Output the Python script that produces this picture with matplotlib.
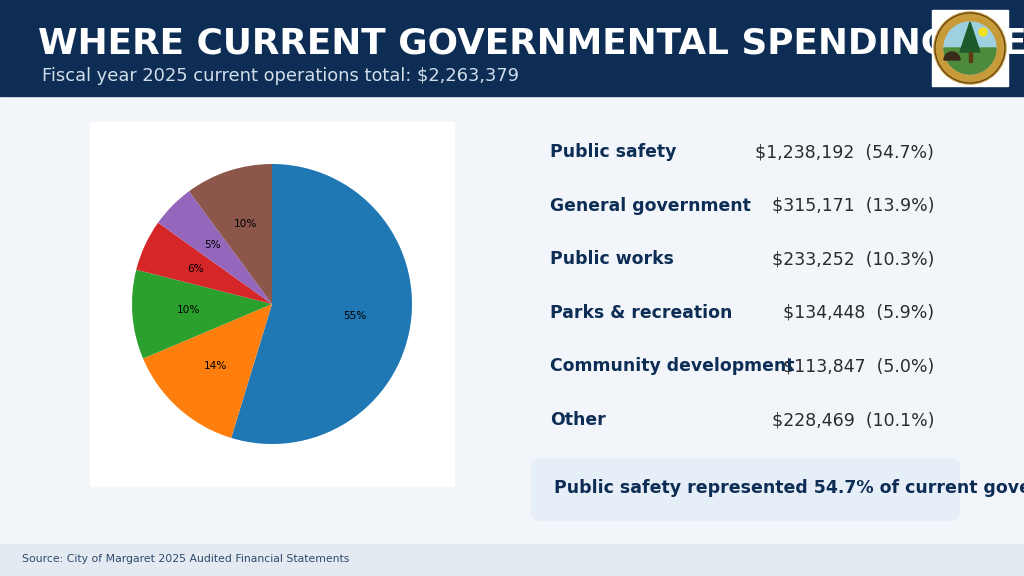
import matplotlib.pyplot as plt
from matplotlib.patches import Rectangle, FancyBboxPatch, Circle, Polygon, Wedge

categories = ["Public safety", "General government", "Public works",
              "Parks & recreation", "Community development", "Other"]
amounts = [1238192, 315171, 233252, 134448, 113847, 228469]
shares = [54.7, 13.9, 10.3, 5.9, 5.0, 10.1]
total = 2263379

title = "WHERE CURRENT GOVERNMENTAL SPENDING WENT"
subtitle = f"Fiscal year 2025 current operations total: ${total:,}"
callout = "Public safety represented 54.7% of current governmental spending"
source = "Source: City of Margaret 2025 Audited Financial Statements"

navy = "#0d2d55"
W, H = 1024, 576

fig = plt.figure(figsize=(10.24, 5.76), dpi=100)
fig.patch.set_facecolor("#f2f6fb")

# layout axes in pixel coords
bg = fig.add_axes([0, 0, 1, 1])
bg.set_xlim(0, W)
bg.set_ylim(H, 0)
bg.axis("off")

bg.add_patch(Rectangle((0, 0), W, 96, color=navy, zorder=1))
bg.add_patch(Rectangle((0, 544), W, 32, color="#e4eaf2", zorder=1))

bg.text(38, 44, title, color="white", fontsize=25.8, fontweight="bold",
        va="center", ha="left", zorder=2)
bg.text(42, 76, subtitle, color="#d3deeb", fontsize=12.9, va="center", zorder=2)

# logo (simplified seal)
bg.add_patch(Rectangle((932, 10), 76, 76, color="white", zorder=3))
bg.add_patch(Circle((970, 48), 36, color="#c79a3a", zorder=4))
bg.add_patch(Circle((970, 48), 35, fill=False, ec="#5a3b12", lw=0.8, zorder=5))
bg.add_patch(Circle((970, 48), 26, color="#9fd0e0", zorder=5))
bg.add_patch(Wedge((970, 48), 26, 0, 180, color="#4d8a3c", zorder=6))
bg.add_patch(Polygon([[970, 22], [960, 52], [980, 52]], color="#1f5a2a", zorder=7))
bg.add_patch(Rectangle((968.5, 52), 3, 10, color="#5a3b12", zorder=7))
bg.add_patch(Circle((983, 32), 4, color="#f5e021", zorder=7))
bg.add_patch(Wedge((952, 60), 8, 180, 360, color="#3b2a1a", zorder=7))

# pie panel
bg.add_patch(Rectangle((90, 122), 364, 364, color="white", zorder=1))
ax = fig.add_axes([90 / W, 1 - 486 / H, 364 / W, 364 / H])
ax.pie(amounts, startangle=90, counterclock=False, autopct="%1.0f%%",
       textprops={"fontsize": 7.6, "color": "black"})
ax.set_xlim(-1.3, 1.3)
ax.set_ylim(-1.3, 1.3)
ax.set_aspect("equal")
ax.axis("off")

# breakdown table
y0, dy = 152, 53.6
for i, (cat, amt, pct) in enumerate(zip(categories, amounts, shares)):
    y = y0 + i * dy
    bg.text(550, y, cat, color=navy, fontsize=12.4, fontweight="bold",
            va="center", ha="left", zorder=3)
    bg.text(934, y, f"${amt:,}  ({pct:.1f}%)", color="#2b2b2b", fontsize=12.5,
            va="center", ha="right", zorder=2)

bg.add_patch(FancyBboxPatch((539, 466), 413, 47, boxstyle="round,pad=8,rounding_size=10",
                            fc="#e6eef7", ec="none", zorder=1))
bg.text(554, 488, callout, color=navy, fontsize=12.5, fontweight="bold",
        va="center", ha="left", zorder=2)

bg.text(22, 559, source, color="#2d4a6b", fontsize=7.8, va="center", ha="left", zorder=2)

fig.savefig("out.png", dpi=100, facecolor=fig.get_facecolor())
